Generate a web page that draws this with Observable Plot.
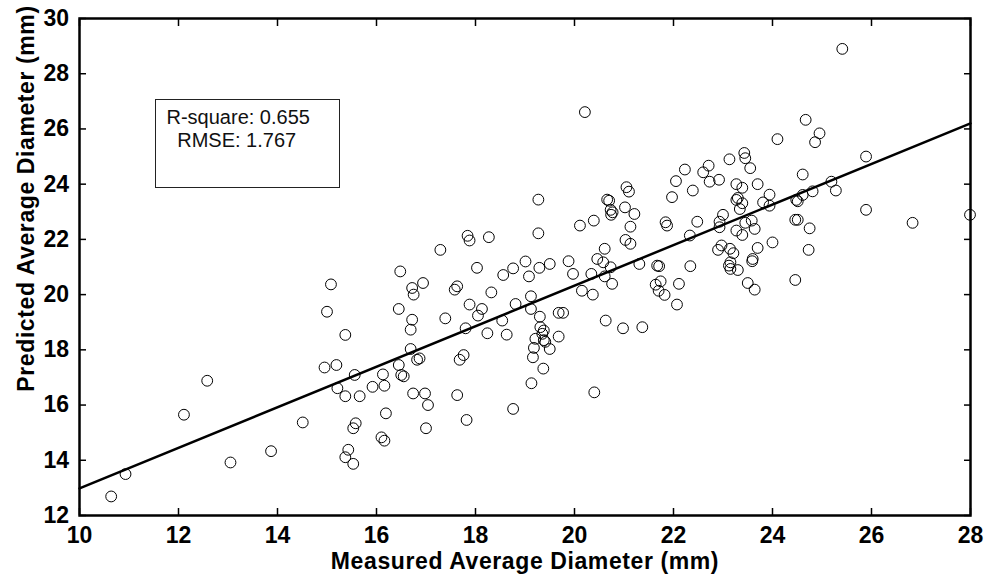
<!DOCTYPE html>
<html>
<head>
<meta charset="utf-8">
<script src="https://cdn.jsdelivr.net/npm/d3@7"></script>
<script src="https://cdn.jsdelivr.net/npm/@observablehq/plot@0.6"></script>
<style>
  html, body { margin: 0; padding: 0; background: #fff; }
  #chart { width: 991px; height: 579px; }
</style>
</head>
<body>
<div id="chart"></div>
<script>
// Measured (x) and predicted (y) average diameters, mm
const measured = [
  10.64,10.93,12.11,12.58,13.05,13.87,14.51,15.08,15.00,15.37,
  14.95,15.19,15.21,15.37,15.56,15.66,15.58,15.53,15.43,15.37,
  15.53,15.92,16.13,16.16,16.19,16.10,16.16,16.48,16.72,16.75,
  16.94,16.45,16.72,16.69,16.69,16.45,16.50,16.55,16.82,16.87,
  16.74,16.98,17.04,17.00,17.39,17.58,17.63,17.88,18.03,18.13,
  18.05,17.80,18.24,17.68,17.76,17.63,17.82,18.32,18.56,18.76,
  19.01,19.08,19.29,19.50,19.88,19.97,18.54,18.63,18.81,19.12,
  19.12,19.30,19.31,19.38,19.35,19.21,19.18,19.16,19.41,19.38,
  19.50,19.68,19.37,19.13,18.76,19.68,19.77,20.15,20.34,20.37,
  20.40,20.61,20.76,20.73,20.63,20.98,21.37,21.31,21.67,21.71,
  21.64,21.74,21.70,21.82,22.11,22.07,22.34,23.12,23.15,23.30,
  23.59,23.50,23.64,24.46,23.15,20.21,19.27,19.27,17.29,17.84,
  17.88,18.27,20.11,20.39,20.66,20.70,21.05,21.10,21.02,20.73,
  20.77,20.74,21.21,21.13,21.03,21.13,20.61,20.46,20.58,21.84,
  21.87,21.97,22.05,22.23,22.39,22.48,22.33,22.60,22.71,22.73,
  25.41,24.67,24.95,24.86,24.10,25.89,23.43,23.45,23.55,23.13,
  22.92,23.27,23.39,23.70,23.27,23.30,23.39,23.34,23.81,23.94,
  23.94,23.00,22.93,22.93,23.45,23.58,23.64,23.27,23.39,22.90,
  22.97,23.14,23.21,23.70,23.60,24.00,24.61,24.61,24.48,24.51,
  24.81,25.19,25.28,24.46,24.51,24.75,24.73,25.89,26.83,27.99
];
const predicted = [
  12.69,13.50,15.65,16.88,13.92,14.33,15.37,20.37,19.38,18.54,
  17.36,17.45,16.61,16.32,17.09,16.32,15.34,15.16,14.38,14.11,
  13.87,16.66,17.11,16.70,15.70,14.83,14.71,20.84,20.24,20.00,
  20.42,19.48,19.09,18.73,18.03,17.45,17.09,17.04,17.64,17.69,
  16.42,16.42,16.00,15.16,19.14,20.18,20.30,19.64,20.97,19.48,
  19.24,18.78,18.60,17.64,17.81,16.36,15.46,20.08,20.71,20.95,
  21.20,20.66,20.97,21.11,21.21,20.75,19.06,18.55,19.66,19.94,
  19.48,19.20,18.82,18.70,18.58,18.40,18.07,17.73,18.29,18.35,
  18.03,18.48,17.32,16.79,15.86,19.34,19.34,20.14,20.75,20.00,
  16.46,20.66,20.39,20.99,19.06,18.78,18.82,21.11,21.05,21.03,
  20.36,20.48,20.14,19.99,20.39,19.64,21.03,21.05,20.93,20.89,
  21.21,20.42,20.18,20.53,21.17,26.61,23.44,22.22,21.62,22.13,
  21.96,22.08,22.50,22.68,23.44,23.40,23.89,23.73,23.16,23.07,
  22.98,22.89,22.92,22.46,21.98,21.84,21.66,21.29,21.17,22.62,
  22.50,23.53,24.11,24.53,23.77,22.64,22.14,24.43,24.67,24.09,
  28.90,26.33,25.84,25.52,25.63,25.00,25.13,24.94,24.58,24.90,
  24.16,24.00,23.87,24.00,23.43,23.50,23.31,23.10,23.34,23.62,
  23.22,22.89,22.64,22.44,22.60,22.68,22.38,22.32,22.16,21.62,
  21.78,21.66,21.50,21.69,21.29,21.89,24.35,23.61,23.43,23.38,
  23.74,24.09,23.77,22.71,22.71,22.40,21.62,23.07,22.60,22.89
];
// Fitted line endpoints
const fitX = [10, 28];
const fitY = [12.98, 26.2];
// Ticks
const xTicks = [10, 12, 14, 16, 18, 20, 22, 24, 26, 28];
const yTicks = [12, 14, 16, 18, 20, 22, 24, 26, 28, 30];
// Texts
const xTitle = "Measured Average Diameter (mm)";
const yTitle = "Predicted Average Diameter (mm)";
const statLines = ["R-square: 0.655", "RMSE: 1.767"];

const points = measured.map((m, i) => ({m, p: predicted[i]}));
const fit = fitX.map((x, i) => ({x, y: fitY[i]}));

const font = "'Liberation Sans', Arial, Helvetica, sans-serif";

const chart = Plot.plot({
  width: 991,
  height: 579,
  marginLeft: 79,
  marginRight: 21,
  marginTop: 18,
  marginBottom: 64,
  x: {domain: [10, 28]},
  y: {domain: [12, 30]},
  style: {fontFamily: font, fontSize: "23px", fontWeight: "bold", color: "black", background: "white"},
  marks: [
    Plot.dot(points, {x: "m", y: "p", r: 5.4, stroke: "black", strokeWidth: 1, fill: "none"}),
    Plot.line(fit, {x: "x", y: "y", stroke: "black", strokeWidth: 2.5}),
    Plot.axisX({ticks: xTicks, tickSize: -7, tickPadding: 18, strokeWidth: 1.5, label: null, fontSize: 23, fontWeight: "bold"}),
    Plot.axisX({ticks: xTicks, anchor: "top", tickSize: -7, tickFormat: () => "", strokeWidth: 1.5, label: null}),
    Plot.axisY({ticks: yTicks, tickSize: -7, tickPadding: 17.5, strokeWidth: 1.5, label: null, fontSize: 23, fontWeight: "bold"}),
    Plot.axisY({ticks: yTicks, anchor: "right", tickSize: -7, tickFormat: () => "", strokeWidth: 1.5, label: null}),
    Plot.frame({stroke: "black", strokeWidth: 2.5}),
    Plot.text([xTitle], {frameAnchor: "bottom", dy: 53, lineAnchor: "bottom", textAnchor: "middle", fontSize: 23, fontWeight: "bold", fill: "black", style: "letter-spacing:0.6px"}),
    Plot.text([yTitle], {frameAnchor: "top-left", dx: -46, dy: 180, rotate: -90, lineAnchor: "bottom", textAnchor: "middle", fontSize: 23, fontWeight: "bold", fill: "black"}),
    Plot.text([statLines[0]], {frameAnchor: "top-left", dx: 87, dy: 105, lineAnchor: "bottom", textAnchor: "start", fontSize: 20, fontWeight: "normal", fill: "#111"}),
    Plot.text([statLines[1]], {frameAnchor: "top-left", dx: 97.7, dy: 128.7, lineAnchor: "bottom", textAnchor: "start", fontSize: 20, fontWeight: "normal", fill: "#111"})
  ]
});

// letter spacing for the axis titles (MATLAB's bold Helvetica is wider)
d3.select(chart).selectAll("text")
  .filter(function() { return this.textContent === xTitle || this.textContent === yTitle; })
  .style("letter-spacing", "0.6px");

// annotation box around the statistics
d3.select(chart).append("rect")
  .attr("x", 155.5).attr("y", 99.5)
  .attr("width", 184).attr("height", 88)
  .attr("fill", "none").attr("stroke", "#222").attr("stroke-width", 1);

document.getElementById("chart").appendChild(chart);
</script>
</body>
</html>
